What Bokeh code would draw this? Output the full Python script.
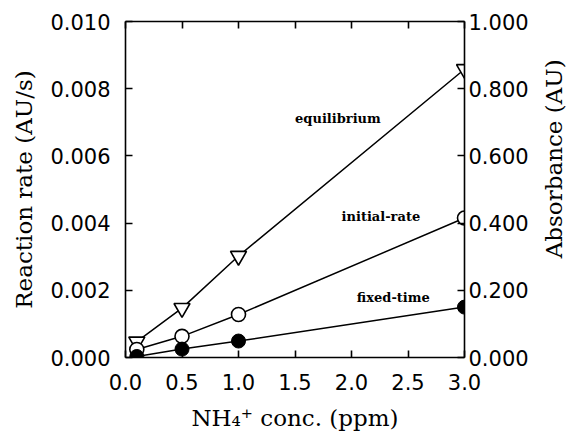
import math
from bokeh.plotting import figure
from bokeh.layouts import row
from bokeh.models import (Range1d, LinearAxis, FixedTicker, PrintfTickFormatter,
                          Label, ColumnDataSource)
from bokeh.embed import file_html
from bokeh.resources import INLINE

# ---- data ----
conc = [0.1, 0.5, 1.0, 3.0]
equilibrium = [0.00047, 0.00147, 0.00302, 0.00858]
initial_rate = [0.00024, 0.00063, 0.00128, 0.00415]
fixed_time = [0.00003, 0.00025, 0.00049, 0.00150]

x_ticks = [0.0, 0.5, 1.0, 1.5, 2.0, 2.5, 3.0]
left_ticks = [0.0, 0.002, 0.004, 0.006, 0.008, 0.010]
right_ticks = [0.0, 0.2, 0.4, 0.6, 0.8, 1.0]

x_title = "NH\u2084\u207a conc. (ppm)"
left_title = "Reaction rate (AU/s)"
right_title = "Absorbance (AU)"
series_labels = ["equilibrium", "initial-rate", "fixed-time"]

TICK_FONT = "DejaVu Sans"
TITLE_FONT = "DejaVu Serif"

p = figure(width=536, height=443, output_backend="svg", toolbar_location=None,
           x_range=Range1d(0, 3.0), y_range=Range1d(0, 0.010),
           min_border_left=125, min_border_right=72,
           min_border_top=21, min_border_bottom=86)
p.extra_y_ranges = {"abs": Range1d(0, 1.0)}
p.outline_line_color = None
p.grid.visible = False
p.background_fill_color = "white"
p.border_fill_color = "white"

def style_axis(ax, ticks, fmt, standoff):
    ax.ticker = FixedTicker(ticks=ticks)
    ax.formatter = PrintfTickFormatter(format=fmt)
    ax.major_tick_in = 7
    ax.major_tick_out = 0
    ax.minor_tick_in = 0
    ax.minor_tick_out = 0
    ax.axis_line_color = "black"
    ax.axis_line_width = 1.6
    ax.major_tick_line_width = 1.6
    ax.major_tick_line_color = "black"
    ax.major_label_text_font = TICK_FONT
    ax.major_label_text_font_size = "21px"
    ax.major_label_text_color = "black"
    ax.major_label_standoff = standoff

def style_title(ax, text, standoff):
    ax.axis_label = text
    ax.axis_label_text_font = TITLE_FONT
    ax.axis_label_text_font_size = "23px"
    ax.axis_label_text_font_style = "normal"
    ax.axis_label_text_color = "black"
    ax.axis_label_standoff = standoff

xa = p.xaxis[0]
style_axis(xa, x_ticks, "%.1f", 16)
style_title(xa, x_title, 12)

ya = p.yaxis[0]
style_axis(ya, left_ticks, "%.3f", 15)
style_title(ya, left_title, 10)

ra = LinearAxis(y_range_name="abs")
style_axis(ra, right_ticks, "%.3f", 4)
p.add_layout(ra, "right")

ta = LinearAxis()
style_axis(ta, x_ticks, "%.1f", 0)
ta.major_label_overrides = {t: "" for t in x_ticks}
p.add_layout(ta, "above")

src = ColumnDataSource(dict(x=conc, eq=equilibrium, ir=initial_rate, ft=fixed_time))

for col in ["eq", "ir", "ft"]:
    p.line("x", col, source=src, line_color="black", line_width=1.5)

p.scatter("x", "eq", source=src, marker="inverted_triangle", size=16,
          fill_color="white", line_color="black", line_width=1.6)
p.scatter("x", "ir", source=src, marker="circle", size=14,
          fill_color="white", line_color="black", line_width=1.6)
p.scatter("x", "ft", source=src, marker="circle", size=14,
          fill_color="black", line_color="black", line_width=1.0)

label_pos = [(1.88, 0.00711), (2.26, 0.0042), (2.37, 0.00179)]
for txt, (lx, ly) in zip(series_labels, label_pos):
    p.add_layout(Label(x=lx, y=ly, text=txt, text_font=TITLE_FONT,
                       text_font_size="13px", text_font_style="bold",
                       text_align="center", text_baseline="middle",
                       text_color="black"))

# narrow strip on the right holding the right-hand axis title (reads bottom to top)
p2 = figure(width=36, height=443, output_backend="svg", toolbar_location=None,
            x_range=Range1d(0, 36), y_range=Range1d(0, 443),
            min_border=0, min_border_left=0, min_border_right=0,
            min_border_top=0, min_border_bottom=0)
p2.axis.visible = False
p2.grid.visible = False
p2.outline_line_color = None
p2.background_fill_color = "white"
p2.border_fill_color = "white"
p2.add_layout(Label(x=17, y=262, text=right_title, angle=math.pi / 2,
                    text_font=TITLE_FONT, text_font_size="23px",
                    text_align="center", text_baseline="middle",
                    text_color="black"))

layout = row(p, p2, spacing=0)
open("out.html", "w").write(file_html(layout, INLINE))
